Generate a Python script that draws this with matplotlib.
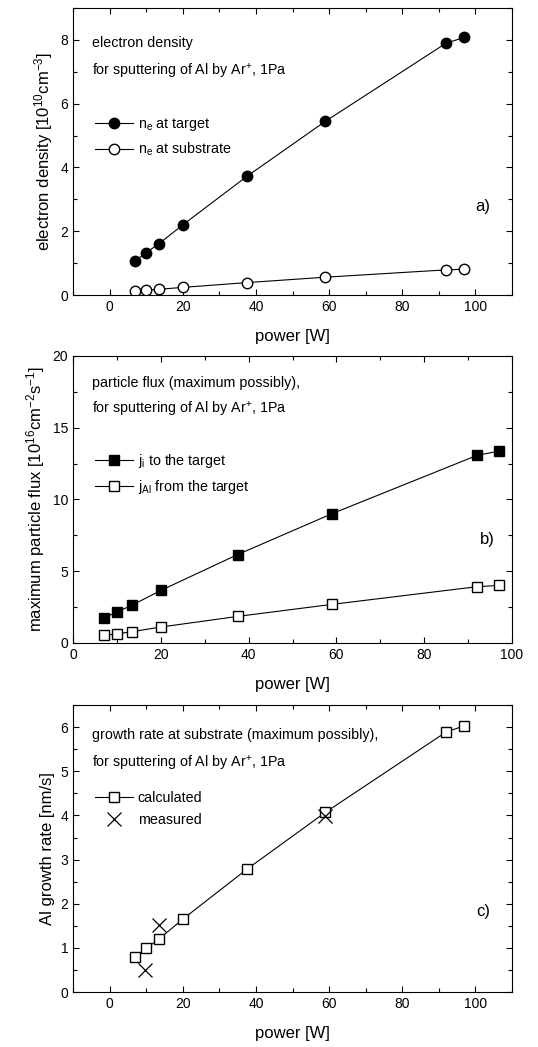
import matplotlib

matplotlib.use("Agg")
import matplotlib.pyplot as plt
from matplotlib.ticker import MultipleLocator

plt.rcParams["font.family"] = ["Liberation Sans", "DejaVu Sans"]
plt.rcParams["mathtext.default"] = "regular"

# power values [W]
power = [7, 10, 13.5, 20, 37.5, 59, 92, 97]

# a) electron density [1e10 cm^-3]
ne_target = [1.07, 1.33, 1.61, 2.20, 3.72, 5.45, 7.90, 8.08]
ne_substrate = [0.12, 0.15, 0.18, 0.24, 0.39, 0.56, 0.79, 0.81]

# b) particle flux [1e16 cm^-2 s^-1]
ji_target = [1.74, 2.16, 2.64, 3.66, 6.16, 9.01, 13.07, 13.37]
jal_target = [0.53, 0.63, 0.79, 1.11, 1.85, 2.69, 3.92, 4.01]

# c) growth rate [nm/s]
growth_calc = [0.79, 0.99, 1.20, 1.65, 2.78, 4.07, 5.89, 6.03]
meas_power = [9.7, 13.5, 59]
growth_meas = [0.49, 1.51, 3.98]

fig = plt.figure(figsize=(5.38, 10.47), dpi=100)
left, width, height = 0.1357, 0.816, 0.2741
ax_a = fig.add_axes([left, 0.7182, width, height])
ax_b = fig.add_axes([left, 0.3859, width, height])
ax_c = fig.add_axes([left, 0.0525, width, height])

lw = 0.8
fs_tick = 10
fs_label = 12
fs_text = 10.3


def style(ax, xlim, ylim, ymaj, ymin, xmaj=20, xmin=10):
    ax.set_xlim(*xlim)
    ax.set_ylim(*ylim)
    ax.xaxis.set_major_locator(MultipleLocator(xmaj))
    ax.xaxis.set_minor_locator(MultipleLocator(xmin))
    ax.yaxis.set_major_locator(MultipleLocator(ymaj))
    ax.yaxis.set_minor_locator(MultipleLocator(ymin))
    ax.tick_params(which="both", direction="in", top=True, right=True,
                   labelsize=fs_tick, width=0.8)
    ax.tick_params(which="major", length=4.5)
    ax.tick_params(which="minor", length=3)
    for s in ax.spines.values():
        s.set_linewidth(0.8)
    ax.set_xlabel("power [W]", fontsize=fs_label, labelpad=11)


def legend(ax, y):
    ax.legend(loc="upper left", bbox_to_anchor=(0.02, y), frameon=False,
              numpoints=1, handlelength=2.7, handletextpad=0.3,
              labelspacing=0.55, fontsize=fs_text)


# panel a
ax_a.plot(power, ne_target, "-o", color="black", lw=lw, ms=7.5,
          label=r"$n_e$ at target")
ax_a.plot(power, ne_substrate, "-o", color="black", mfc="white", lw=lw, ms=7.5,
          label=r"$n_e$ at substrate")
style(ax_a, (-10, 110), (0, 9), 2, 1)
ax_a.set_ylabel(r"electron density [10$^{10}$cm$^{-3}$]", fontsize=fs_label)
ax_a.text(0.043, 0.878, "electron density", transform=ax_a.transAxes,
          fontsize=fs_text, va="center")
ax_a.text(0.043, 0.780, r"for sputtering of Al by Ar$^{+}$, 1Pa",
          transform=ax_a.transAxes, fontsize=fs_text, va="center")
ax_a.text(0.934, 0.31, "a)", transform=ax_a.transAxes, fontsize=12,
          va="center", ha="center")
legend(ax_a, 0.67)

# panel b
ax_b.plot(power, ji_target, "-s", color="black", lw=lw, ms=6.5,
          label=r"$j_i$ to the target")
ax_b.plot(power, jal_target, "-s", color="black", mfc="white", lw=lw, ms=6.5,
          label=r"$j_{Al}$ from the target")
style(ax_b, (0, 100), (0, 20), 5, 2.5)
ax_b.set_ylabel(r"maximum particle flux [10$^{16}$cm$^{-2}$s$^{-1}$]",
                fontsize=fs_label)
ax_b.text(0.043, 0.906, "particle flux (maximum possibly),",
          transform=ax_b.transAxes, fontsize=fs_text, va="center")
ax_b.text(0.043, 0.812, r"for sputtering of Al by Ar$^{+}$, 1Pa",
          transform=ax_b.transAxes, fontsize=fs_text, va="center")
ax_b.text(0.943, 0.362, "b)", transform=ax_b.transAxes, fontsize=12,
          va="center", ha="center")
legend(ax_b, 0.71)

# panel c
ax_c.plot(power, growth_calc, "-s", color="black", mfc="white", lw=lw, ms=6.5,
          label="calculated")
ax_c.plot(meas_power, growth_meas, "x", color="black", ms=10, mew=0.9,
          label="measured")
style(ax_c, (-10, 110), (0, 6.5), 1, 0.5)
ax_c.set_ylabel("Al growth rate [nm/s]", fontsize=fs_label)
ax_c.text(0.043, 0.895, "growth rate at substrate (maximum possibly),",
          transform=ax_c.transAxes, fontsize=fs_text, va="center")
ax_c.text(0.043, 0.798, r"for sputtering of Al by Ar$^{+}$, 1Pa",
          transform=ax_c.transAxes, fontsize=fs_text, va="center")
ax_c.text(0.934, 0.282, "c)", transform=ax_c.transAxes, fontsize=12,
          va="center", ha="center")
legend(ax_c, 0.745)

fig.savefig("out.png", dpi=100)
